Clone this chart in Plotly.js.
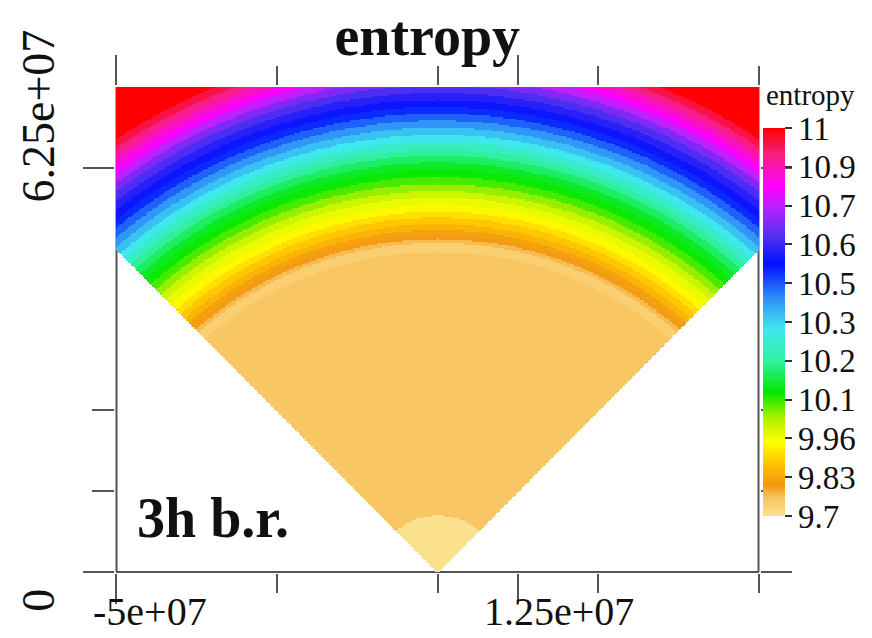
<!DOCTYPE html>
<html>
<head>
<meta charset="utf-8">
<script src="https://cdn.plot.ly/plotly-3.0.1.min.js"></script>
<style>
  html, body { margin: 0; padding: 0; background: #fff; }
  #chart { width: 872px; height: 638px; }
</style>
</head>
<body>
<div id="chart"></div>
<script>
// Entropy rings of the wedge, from the apex outward: each ring reaches out to
// ringOuterRadius (cm) and carries the entropy in ringEntropy.
const ringOuterRadius = [
  0.88e7, 4.95e7, 5.09e7, 5.15e7, 5.21e7, 5.29e7, 5.38e7, 5.48e7, 5.57e7,
  5.68e7, 5.79e7, 5.89e7, 6.00e7, 6.11e7, 6.22e7, 6.33e7, 6.44e7, 6.54e7,
  6.65e7, 6.76e7, 6.87e7, 6.98e7, 7.09e7, 7.19e7, 7.30e7, 7.41e7, 7.52e7,
  7.63e7, 7.74e7, 7.84e7, 7.95e7, 8.06e7, 8.17e7, 9.30e7
];
const ringEntropy = [
  9.70, 9.76, 9.74, 9.77, 9.80, 9.82, 9.85, 9.88, 9.91,
  9.94, 9.97, 10.00, 10.04, 10.08, 10.11, 10.14, 10.18, 10.22,
  10.27, 10.32, 10.37, 10.42, 10.47, 10.52, 10.56, 10.59, 10.63,
  10.68, 10.74, 10.80, 10.85, 10.90, 10.95, 11.00
];

// Axis ticks
const xTickVals = [-5e7, 1.25e7];
const xTickText = ['-5e+07', '1.25e+07'];
const xMinorTickVals = [-2.5e7, 0, 2.5e7, 5e7];
const yTickVals = [0, 6.25e7];
const yTickText = ['0', '6.25e+07'];
const yMinorTickVals = [1.25e7, 2.5e7];

// Colour bar ticks
const cbTickVals = [9.7, 9.83, 9.96, 10.09, 10.22, 10.35, 10.48, 10.61, 10.74, 10.87, 11.0];
const cbTickText = ['9.7', '9.83', '9.96', '10.1', '10.2', '10.3', '10.5', '10.6', '10.7', '10.9', '11'];

const X_MIN = -5e7, X_MAX = 5e7, Y_MIN = 0, Y_MAX = 7.5e7;

// Sample grid over the plotting window; the field lives inside the 45-degree wedge
const STEP = 2.5e5;
const nx = Math.round((X_MAX - X_MIN) / STEP) + 1;
const ny = Math.round((Y_MAX - Y_MIN) / STEP) + 1;
const xs = Array.from({length: nx}, (_, i) => X_MIN + i * STEP);
const ys = Array.from({length: ny}, (_, j) => Y_MIN + j * STEP);
const RING_ASPECT = 0.88; // rings are slightly flattened sideways

function ringValue(r) {
  let i = ringOuterRadius.findIndex(edge => r <= edge);
  if (i < 0) i = ringEntropy.length - 1;
  return ringEntropy[i];
}

const z = ys.map(y => xs.map(x => {
  if (Math.abs(x) > y) return null;
  return ringValue(Math.sqrt(RING_ASPECT * x * x + y * y));
}));

const colorscale = [
  [0.000, '#fbe08e'],
  [0.046, '#f8c662'],
  [0.080, '#f39610'],
  [0.140, '#ffc800'],
  [0.190, '#ffff00'],
  [0.250, '#b4f000'],
  [0.320, '#00e800'],
  [0.400, '#30f0a0'],
  [0.480, '#40e8f0'],
  [0.560, '#3090f8'],
  [0.650, '#0010ff'],
  [0.720, '#5030f0'],
  [0.800, '#c020ff'],
  [0.850, '#ff00ff'],
  [0.930, '#f52080'],
  [1.000, '#ff0000']
];

const SERIF = 'Liberation Serif, Times New Roman, serif';
const AXIS_GREY = '#555';
const TEXT = '#111';

const trace = {
  type: 'heatmap',
  x: xs,
  y: ys,
  z: z,
  zmin: 9.7,
  zmax: 11.0,
  zsmooth: false,
  colorscale: colorscale,
  hoverinfo: 'skip',
  colorbar: {
    x: 1.0062, xanchor: 'left', xref: 'paper', xpad: 0,
    y: 0.5155, yanchor: 'middle', ypad: 0,
    thickness: 22, thicknessmode: 'pixels',
    len: 388, lenmode: 'pixels',
    outlinewidth: 0,
    tickmode: 'array', tickvals: cbTickVals, ticktext: cbTickText,
    ticks: 'outside', ticklen: 7, tickwidth: 2, tickcolor: '#333',
    tickfont: {family: SERIF, size: 33, color: TEXT}
  }
};

const commonAxis = {
  showgrid: false,
  zeroline: false,
  showline: true,
  linecolor: 'rgba(0,0,0,0)',
  linewidth: 2,
  mirror: 'ticks',
  ticks: 'outside',
  tickwidth: 2,
  tickcolor: AXIS_GREY,
  showticklabels: false,
  layer: 'below traces',
  fixedrange: true
};

const tickFont = {family: SERIF, size: 40, color: TEXT};
const yTickFont = {family: SERIF, size: 46, color: TEXT};

const layout = {
  width: 872,
  height: 638,
  margin: {l: 116, r: 113, t: 87, b: 66},
  paper_bgcolor: '#ffffff',
  plot_bgcolor: '#ffffff',
  showlegend: false,
  title: {
    text: '<b>entropy</b>',
    font: {family: SERIF, size: 56, color: TEXT},
    xref: 'container', yref: 'container',
    x: 0.49, xanchor: 'center',
    y: 0.945, yanchor: 'middle'
  },
  xaxis: Object.assign({}, commonAxis, {
    range: [X_MIN, X_MAX],
    tickmode: 'array', tickvals: xTickVals, ticktext: xTickText,
    ticklen: 30,
    minor: {tickmode: 'array', tickvals: xMinorTickVals, ticks: 'outside',
            ticklen: 19, tickwidth: 2, tickcolor: AXIS_GREY, showgrid: false}
  }),
  yaxis: Object.assign({}, commonAxis, {
    range: [Y_MIN, Y_MAX],
    tickmode: 'array', tickvals: yTickVals, ticktext: yTickText,
    ticklen: 31,
    minor: {tickmode: 'array', tickvals: yMinorTickVals, ticks: 'outside',
            ticklen: 22, tickwidth: 2, tickcolor: AXIS_GREY, showgrid: false}
  }),
  // frame lines sit under the field, so the wedge covers them where it reaches the edge
  shapes: [
    {type: 'line', layer: 'below', xref: 'paper', yref: 'paper',
     x0: 0.5 / 643, x1: 0.5 / 643, y0: 0, y1: 1, line: {color: AXIS_GREY, width: 2}},
    {type: 'line', layer: 'below', xref: 'paper', yref: 'paper',
     x0: 1 - 0.5 / 643, x1: 1 - 0.5 / 643, y0: 0, y1: 1, line: {color: AXIS_GREY, width: 2}},
    {type: 'line', layer: 'below', xref: 'paper', yref: 'paper',
     x0: 0, x1: 1, y0: 0, y1: 0, line: {color: AXIS_GREY, width: 2}}
  ],
  annotations: [
    {text: '<b>3h b.r.</b>', xref: 'paper', yref: 'paper', x: 19 / 643, y: 0.111,
     xanchor: 'left', yanchor: 'middle', showarrow: false,
     font: {family: SERIF, size: 56, color: TEXT}},
    // colour bar heading
    {text: 'entropy', xref: 'paper', yref: 'paper', x: (764 - 116) / 643, y: (572 - 95) / 485,
     xanchor: 'left', yanchor: 'middle', showarrow: false,
     font: {family: SERIF, size: 29, color: TEXT}},
    // x tick labels
    {text: xTickText[0], xref: 'x', yref: 'paper', x: xTickVals[0], y: 0,
     xanchor: 'left', yanchor: 'top', xshift: -25, yshift: -15, showarrow: false,
     font: tickFont},
    {text: xTickText[1], xref: 'x', yref: 'paper', x: xTickVals[1], y: 0,
     xanchor: 'left', yanchor: 'top', xshift: -36, yshift: -15, showarrow: false,
     font: tickFont},
    // y tick labels, read bottom to top
    {text: yTickText[1], xref: 'paper', yref: 'y', x: -0.121, y: yTickVals[1],
     textangle: -90, xanchor: 'center', yanchor: 'bottom', yshift: -37, showarrow: false,
     font: yTickFont},
    {text: yTickText[0], xref: 'paper', yref: 'y', x: -0.121, y: yTickVals[0],
     textangle: -90, xanchor: 'center', yanchor: 'bottom', yshift: -42, showarrow: false,
     font: yTickFont}
  ]
};

Plotly.newPlot('chart', [trace], layout, {displayModeBar: false, staticPlot: true});
</script>
</body>
</html>
